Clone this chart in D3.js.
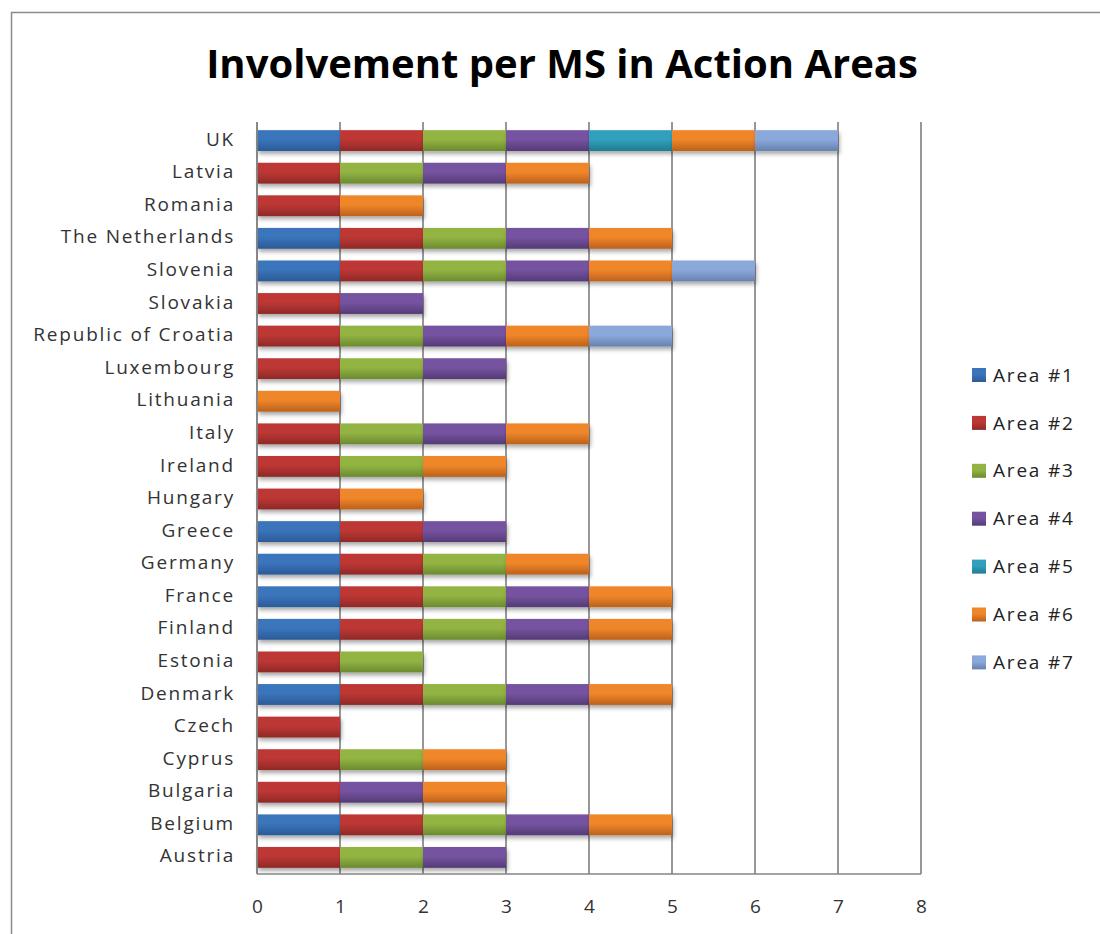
<!DOCTYPE html>
<html>
<head>
<meta charset="utf-8">
<script src="https://cdn.jsdelivr.net/npm/d3@7"></script>
<style>
  body { margin: 0; background: #fff; }
  svg { display: block; }
  .axis text { font-family: "Open Sans", "DejaVu Sans", sans-serif; fill: #333; }
</style>
</head>
<body>
<svg id="chart"></svg>
<script>
// countries, top row first
const countries = ["UK", "Latvia", "Romania", "The Netherlands", "Slovenia", "Slovakia",
  "Republic of Croatia", "Luxembourg", "Lithuania", "Italy", "Ireland", "Hungary",
  "Greece", "Germany", "France", "Finland", "Estonia", "Denmark", "Czech", "Cyprus",
  "Bulgaria", "Belgium", "Austria"];

const areas = ["Area #1", "Area #2", "Area #3", "Area #4", "Area #5", "Area #6", "Area #7"];

// one value per country (same order as countries)
const area1 = [1,0,0,1,1,0,0,0,0,0,0,0,1,1,1,1,0,1,0,0,0,1,0];
const area2 = [1,1,1,1,1,1,1,1,0,1,1,1,1,1,1,1,1,1,1,1,1,1,1];
const area3 = [1,1,0,1,1,0,1,1,0,1,1,0,0,1,1,1,1,1,0,1,0,1,1];
const area4 = [1,1,0,1,1,1,1,1,0,1,0,0,1,0,1,1,0,1,0,0,1,1,1];
const area5 = [1,0,0,0,0,0,0,0,0,0,0,0,0,0,0,0,0,0,0,0,0,0,0];
const area6 = [1,1,1,1,1,0,1,0,1,1,1,1,0,1,1,1,0,1,0,1,1,1,0];
const area7 = [1,0,0,0,1,0,1,0,0,0,0,0,0,0,0,0,0,0,0,0,0,0,0];

const xTicks = [0, 1, 2, 3, 4, 5, 6, 7, 8];

// top / bottom gradient stops for each area
const colorsTop = ["#3a74bb", "#bd3734", "#93b443", "#7653a0", "#31a0bd", "#f0862a", "#8aa9da"];
const colorsBot = ["#2b5b97", "#8f2927", "#6b8a30", "#543b76", "#227a92", "#bc611b", "#6781b0"];

const W = 1100, H = 934;
const margin = { top: 122, right: 179, bottom: 60, left: 257 };
const width = W - margin.left - margin.right;
const height = H - margin.top - margin.bottom;

const rows = countries.map((c, i) => {
  const r = { country: c };
  [area1, area2, area3, area4, area5, area6, area7].forEach((s, k) => r[areas[k]] = s[i]);
  return r;
});

const series = d3.stack().keys(areas)(rows);

const svg = d3.select("#chart").attr("width", W).attr("height", H);

// gradients + shadow
const defs = svg.append("defs");
areas.forEach((a, k) => {
  const g = defs.append("linearGradient")
    .attr("id", "grad" + k).attr("x1", 0).attr("y1", 0).attr("x2", 0).attr("y2", 1);
  g.append("stop").attr("offset", "0%").attr("stop-color", colorsTop[k]);
  g.append("stop").attr("offset", "45%").attr("stop-color", colorsTop[k]);
  g.append("stop").attr("offset", "100%").attr("stop-color", colorsBot[k]);
});
defs.append("filter").attr("id", "shadow")
  .attr("x", "-10%").attr("y", "-30%").attr("width", "130%").attr("height", "190%")
  .append("feDropShadow")
  .attr("dx", 1.5).attr("dy", 3).attr("stdDeviation", 2)
  .attr("flood-color", "#000").attr("flood-opacity", 0.35);

// outer frame
svg.append("rect")
  .attr("x", 11.5).attr("y", 12.5)
  .attr("width", W + 10).attr("height", H + 10)
  .attr("fill", "none").attr("stroke", "#8c8c8c").attr("stroke-width", 1.5);

// title
svg.append("text")
  .attr("x", 562).attr("y", 78)
  .attr("text-anchor", "middle")
  .style("font-family", "'Open Sans', 'DejaVu Sans', sans-serif")
  .style("font-weight", "bold")
  .style("font-size", "40px")
  .attr("fill", "#000")
  .text("Involvement per MS in Action Areas");

const chart = svg.append("g")
  .attr("transform", `translate(${margin.left},${margin.top})`);

const xScale = d3.scaleLinear().domain([0, 8]).range([0, width]);
const yScale = d3.scaleBand().domain(countries).range([0, height])
  .paddingInner(0.36).paddingOuter(0.22);

// vertical gridlines
chart.append("g")
  .selectAll("line")
  .data(xTicks)
  .join("line")
  .attr("x1", d => xScale(d)).attr("x2", d => xScale(d))
  .attr("y1", 0).attr("y2", height)
  .attr("stroke", "#858585").attr("stroke-width", 1.7);

// bars
chart.append("g")
  .selectAll("g")
  .data(series)
  .join("g")
  .attr("fill", (d, k) => `url(#grad${k})`)
  .selectAll("rect")
  .data(d => d.filter(p => p[1] > p[0]))
  .join("rect")
  .attr("x", d => xScale(d[0]))
  .attr("y", d => yScale(d.data.country) + 1)
  .attr("width", d => xScale(d[1]) - xScale(d[0]))
  .attr("height", yScale.bandwidth())
  .attr("filter", "url(#shadow)");

// axes lines
chart.append("line")
  .attr("x1", 0).attr("x2", width).attr("y1", height).attr("y2", height)
  .attr("stroke", "#858585").attr("stroke-width", 1.7);
chart.append("line")
  .attr("x1", 0).attr("x2", 0).attr("y1", 0).attr("y2", height)
  .attr("stroke", "#858585").attr("stroke-width", 1.7);

// y axis labels
const yAxis = d3.axisLeft(yScale).tickSize(0).tickPadding(22);
chart.append("g")
  .attr("class", "axis y-axis")
  .call(yAxis)
  .call(g => g.select(".domain").remove())
  .selectAll("text")
  .style("font-size", "19px")
  .style("letter-spacing", "1.8px");

// x axis labels
const xAxis = d3.axisBottom(xScale).tickValues(xTicks).tickSize(0).tickPadding(26);
chart.append("g")
  .attr("class", "axis x-axis")
  .attr("transform", `translate(0,${height})`)
  .call(xAxis)
  .call(g => g.select(".domain").remove())
  .selectAll("text")
  .style("font-size", "19px");

// legend
const legend = svg.append("g")
  .selectAll("g")
  .data(areas)
  .join("g")
  .attr("transform", (d, k) => `translate(972,${375 + k * 47.9})`);
legend.append("rect")
  .attr("x", 0).attr("y", -7).attr("width", 14).attr("height", 14)
  .attr("fill", (d, k) => `url(#grad${k})`);
legend.append("text")
  .attr("x", 21).attr("y", 0).attr("dy", "0.35em")
  .style("font-family", "'Open Sans', 'DejaVu Sans', sans-serif")
  .style("font-size", "19px")
  .style("letter-spacing", "1.8px")
  .attr("fill", "#222")
  .text(d => d);
</script>
</body>
</html>
